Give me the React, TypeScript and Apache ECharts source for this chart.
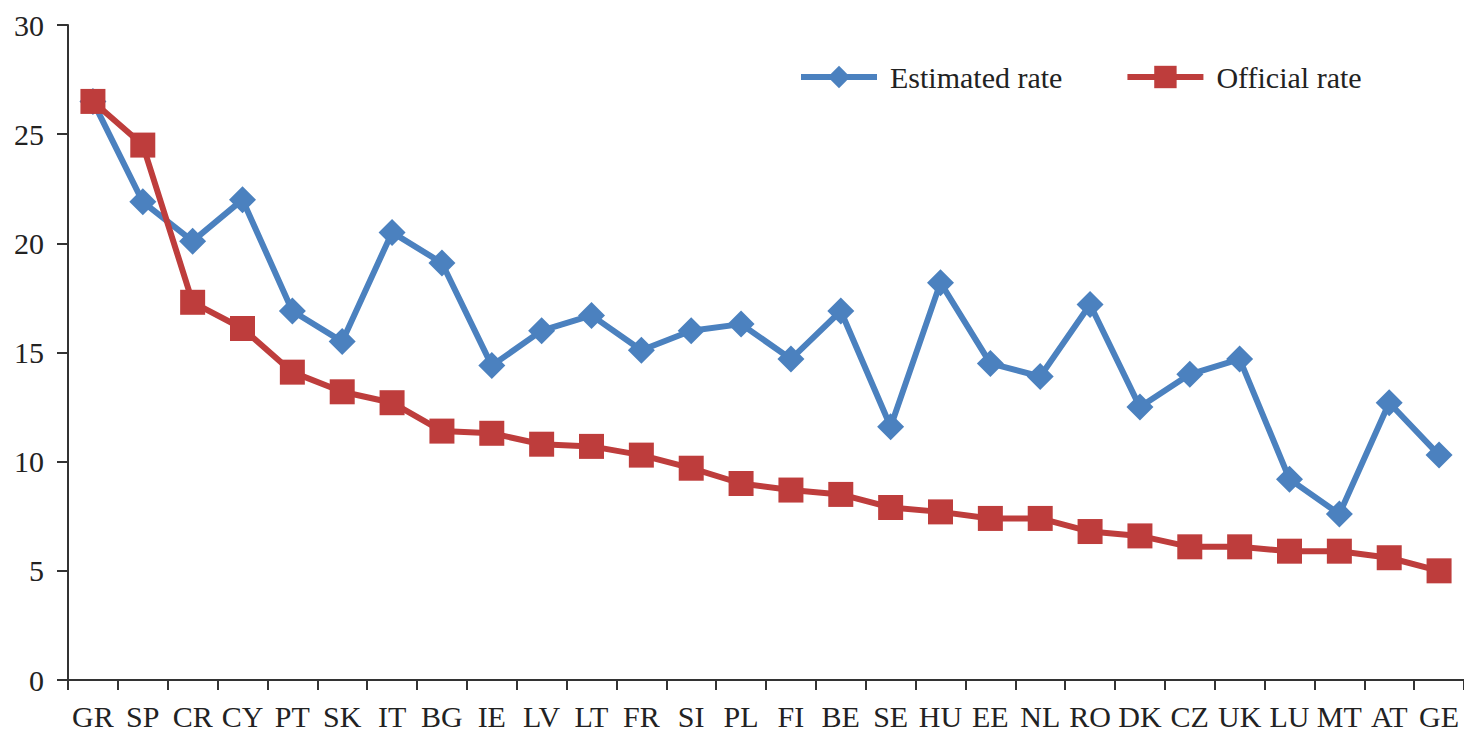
import React, { useEffect, useRef } from "react";
import * as echarts from "echarts";

const categories = ["GR","SP","CR","CY","PT","SK","IT","BG","IE","LV","LT","FR","SI","PL","FI","BE","SE","HU","EE","NL","RO","DK","CZ","UK","LU","MT","AT","GE"];
const estimatedRate = [26.5,21.9,20.1,22.0,16.9,15.5,20.5,19.1,14.4,16.0,16.7,15.1,16.0,16.3,14.7,16.9,11.6,18.2,14.5,13.9,17.2,12.5,14.0,14.7,9.2,7.6,12.7,10.3];
const officialRate = [26.5,24.5,17.3,16.1,14.1,13.2,12.7,11.4,11.3,10.8,10.7,10.3,9.7,9.0,8.7,8.5,7.9,7.7,7.4,7.4,6.8,6.6,6.1,6.1,5.9,5.9,5.6,5.0];
const yTicks = { min: 0, max: 30, interval: 5 };

const BLUE = "#4b81bf";
const RED = "#be3d3c";
const FONT = "Liberation Serif";

export default function App() {
  const ref = useRef<HTMLDivElement>(null);
  useEffect(() => {
    if (!ref.current) return;
    const chart = echarts.init(ref.current, undefined, { renderer: "svg" });
    chart.setOption({
      animation: false,
      backgroundColor: "#ffffff",
      grid: { left: 68, right: 0, top: 25, bottom: 53, containLabel: false },
      legend: {
        left: 793,
        top: 57,
        itemWidth: 76,
        itemHeight: 28,
        itemGap: 62,
        lineStyle: { width: 6 },
        textStyle: { fontFamily: FONT, fontSize: 30, color: "#222", padding: [0, 0, 0, 8] },
        data: ["Estimated rate", "Official rate"],
      },
      xAxis: {
        type: "category",
        data: categories,
        boundaryGap: true,
        axisLine: { show: true, lineStyle: { color: "#333", width: 2 } },
        axisTick: { show: true, length: 10, lineStyle: { color: "#333", width: 2 }, alignWithLabel: false },
        axisLabel: { interval: 0, fontFamily: FONT, fontSize: 30, color: "#222", margin: 21 },
      },
      yAxis: {
        type: "value",
        min: yTicks.min,
        max: yTicks.max,
        interval: yTicks.interval,
        splitLine: { show: false },
        axisLine: { show: true, lineStyle: { color: "#333", width: 2 } },
        axisTick: { show: true, length: 11, lineStyle: { color: "#333", width: 2 } },
        axisLabel: { fontFamily: FONT, fontSize: 30, color: "#222", margin: 24 },
      },
      series: [
        {
          name: "Estimated rate",
          type: "line",
          data: estimatedRate,
          symbol: "diamond",
          symbolSize: 27,
          lineStyle: { color: BLUE, width: 6 },
          itemStyle: { color: BLUE },
        },
        {
          name: "Official rate",
          type: "line",
          data: officialRate,
          symbol: "rect",
          symbolSize: 25,
          lineStyle: { color: RED, width: 6 },
          itemStyle: { color: RED },
        },
      ],
    });
    return () => chart.dispose();
  }, []);
  return (
    <div
      ref={ref}
      style={{ position: "absolute", left: 0, top: 0, width: 1464, height: 733 }}
    />
  );
}
